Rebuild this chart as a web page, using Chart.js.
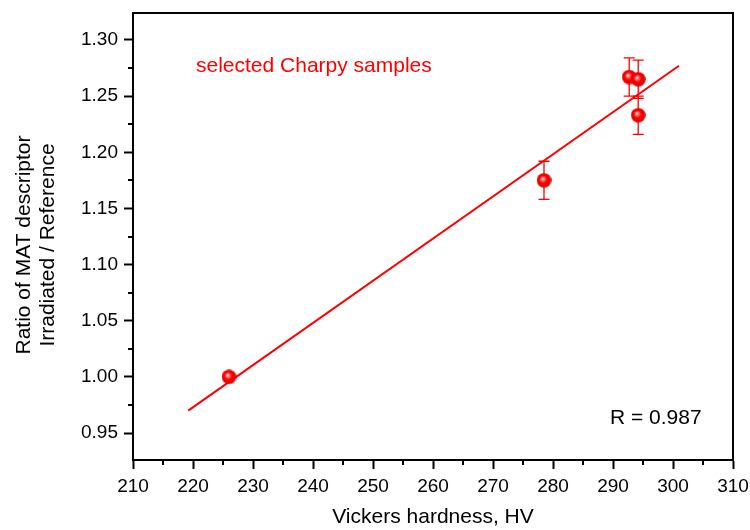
<!DOCTYPE html>
<html>
<head>
<meta charset="utf-8">
<script src="https://cdn.jsdelivr.net/npm/chart.js@4.4.1/dist/chart.umd.min.js"></script>
<style>
  body { margin: 0; background: #fff; }
  #wrap { width: 750px; height: 530px; }
</style>
</head>
<body>
<div id="wrap"><canvas id="chart" width="750" height="530"></canvas></div>
<script>
// dados
const hardness = [226.0, 278.5, 292.7, 294.2, 294.2];
const ratio = [1.000, 1.175, 1.267, 1.265, 1.233];
const ratioErr = [0, 0.017, 0.017, 0.017, 0.017];

// reta ajustada (extremos)
const fitX = [219.2, 301.0];
const fitY = [0.970, 1.277];

const xTicks = [210, 220, 230, 240, 250, 260, 270, 280, 290, 300, 310];
const yTicks = [0.95, 1.00, 1.05, 1.10, 1.15, 1.20, 1.25, 1.30];

const FONT = '"Liberation Sans", Arial, Helvetica, sans-serif';
const RED = '#ff0000';

// esfera vermelha para os pontos
function makeSphere(size) {
  const c = document.createElement('canvas');
  c.width = c.height = size;
  const r = size / 2;
  const g = c.getContext('2d');
  const grad = g.createRadialGradient(r * 0.8, r * 0.75, 0, r, r, r);
  grad.addColorStop(0, '#ffffff');
  grad.addColorStop(0.2, '#ff8080');
  grad.addColorStop(0.5, '#ff0000');
  grad.addColorStop(1, '#dd0000');
  g.fillStyle = grad;
  g.beginPath();
  g.arc(r, r, r - 0.2, 0, Math.PI * 2);
  g.fill();
  return c;
}

const extras = {
  id: 'extras',
  beforeDatasetsDraw(chart) {
    const ctx = chart.ctx;
    const xs = chart.scales.x, ys = chart.scales.y;
    // barras de erro
    ctx.save();
    ctx.strokeStyle = RED;
    ctx.lineWidth = 1.3;
    hardness.forEach((h, i) => {
      if (!ratioErr[i]) return;
      const px = xs.getPixelForValue(h);
      const top = ys.getPixelForValue(ratio[i] + ratioErr[i]);
      const bot = ys.getPixelForValue(ratio[i] - ratioErr[i]);
      ctx.beginPath();
      ctx.moveTo(px, top); ctx.lineTo(px, bot);
      ctx.moveTo(px - 5.5, top); ctx.lineTo(px + 5.5, top);
      ctx.moveTo(px - 5.5, bot); ctx.lineTo(px + 5.5, bot);
      ctx.stroke();
    });
    ctx.restore();
  },
  afterDraw(chart) {
    const ctx = chart.ctx;
    const a = chart.chartArea;
    const xs = chart.scales.x, ys = chart.scales.y;
    ctx.save();
    // moldura superior e direita
    ctx.strokeStyle = '#000';
    ctx.lineWidth = 2;
    ctx.beginPath();
    ctx.moveTo(a.left, a.top); ctx.lineTo(a.right, a.top); ctx.lineTo(a.right, a.bottom);
    ctx.stroke();
    // ticks menores
    ctx.beginPath();
    for (let i = 0; i < xTicks.length - 1; i++) {
      const px = Math.round(xs.getPixelForValue((xTicks[i] + xTicks[i + 1]) / 2));
      ctx.moveTo(px, a.bottom); ctx.lineTo(px, a.bottom + 5);
    }
    for (let i = 0; i < yTicks.length - 1; i++) {
      const py = Math.round(ys.getPixelForValue((yTicks[i] + yTicks[i + 1]) / 2));
      ctx.moveTo(a.left, py); ctx.lineTo(a.left - 5, py);
    }
    ctx.stroke();
    // textos
    ctx.fillStyle = RED;
    ctx.font = '21px ' + FONT;
    ctx.textBaseline = 'alphabetic';
    ctx.textAlign = 'left';
    ctx.fillText('selected Charpy samples', 196, 72);
    ctx.fillStyle = '#000';
    ctx.fillText('R = 0.987', 610, 424);
    // título do eixo y
    ctx.translate(0, 245);
    ctx.rotate(-Math.PI / 2);
    ctx.textAlign = 'center';
    ctx.textBaseline = 'middle';
    ctx.fillText('Ratio of MAT descriptor', 0, 24);
    ctx.fillText('Irradiated / Reference', 0, 48);
    ctx.restore();
  }
};

new Chart(document.getElementById('chart'), {
  type: 'scatter',
  data: {
    datasets: [
      {
        label: 'samples',
        data: hardness.map((h, i) => ({ x: h, y: ratio[i] })),
        pointStyle: makeSphere(15),
        pointRadius: 7.5
      },
      {
        type: 'line',
        label: 'fit',
        data: fitX.map((x, i) => ({ x: x, y: fitY[i] })),
        borderColor: RED,
        borderWidth: 2,
        pointRadius: 0,
        fill: false
      }
    ]
  },
  plugins: [extras],
  options: {
    responsive: false,
    animation: false,
    layout: { padding: { top: 13, right: 17, bottom: 0, left: 0 } },
    plugins: {
      legend: { display: false },
      tooltip: { enabled: false }
    },
    scales: {
      x: {
        type: 'linear',
        min: 210,
        max: 310,
        afterFit(scale) {
          scale.height = 70;
          scale.paddingLeft = 0; scale.paddingRight = 0;
        },
        ticks: {
          stepSize: 10,
          color: '#000',
          padding: 6,
          maxRotation: 0,
          font: { family: FONT, size: 19 }
        },
        grid: { drawOnChartArea: false, drawTicks: true, tickLength: 9, tickWidth: 2, tickColor: '#000' },
        border: { display: true, color: '#000', width: 2 },
        title: {
          display: true,
          text: 'Vickers hardness, HV',
          color: '#000',
          font: { family: FONT, size: 21 },
          padding: { top: 0, bottom: 0 }
        }
      },
      y: {
        type: 'linear',
        min: 0.926,
        max: 1.324,
        afterFit(scale) {
          scale.width = 133;
          scale.paddingTop = 0; scale.paddingBottom = 0;
        },
        ticks: {
          stepSize: 0.05,
          includeBounds: false,
          color: '#000',
          padding: 6,
          font: { family: FONT, size: 19 },
          callback: v => v.toFixed(2)
        },
        grid: { drawOnChartArea: false, drawTicks: true, tickLength: 9, tickWidth: 2, tickColor: '#000' },
        border: { display: true, color: '#000', width: 2 }
      }
    }
  }
});
</script>
</body>
</html>
